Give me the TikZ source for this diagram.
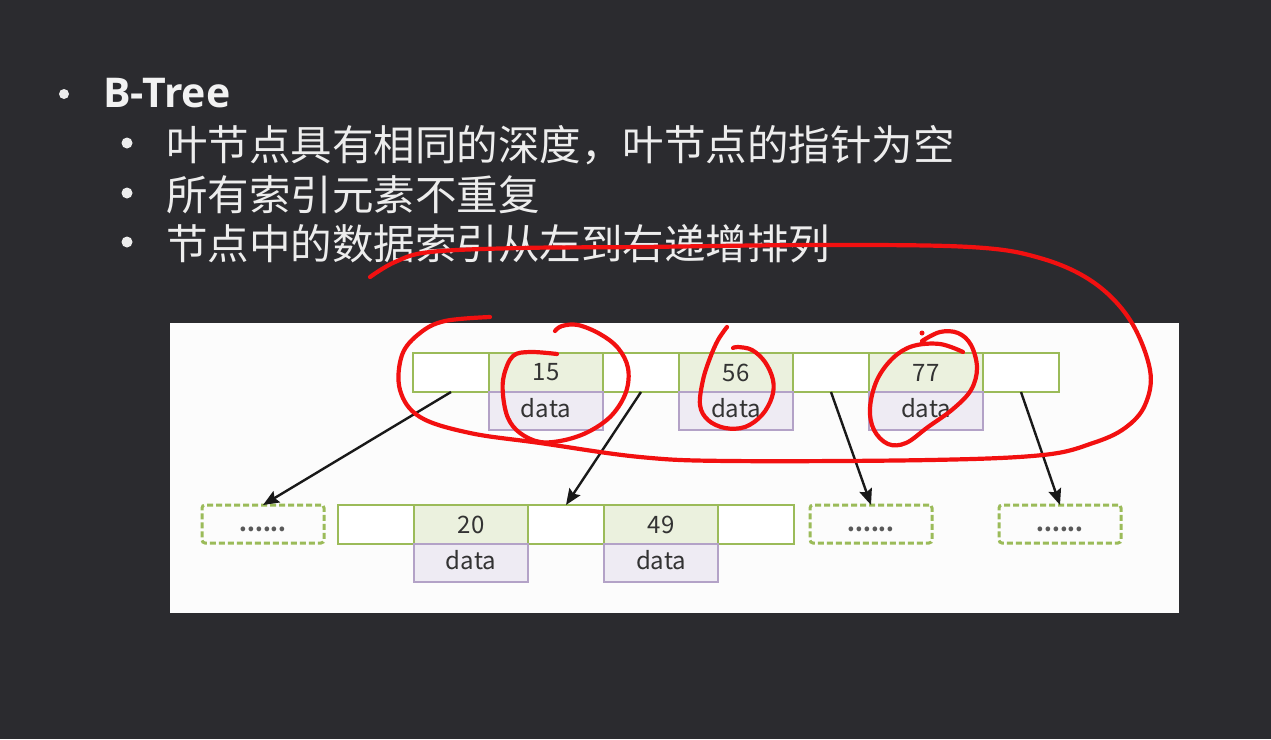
\documentclass[tikz,border=0pt]{standalone}
\usepackage{fontspec}
\usetikzlibrary{arrows.meta}
\newfontfamily\cjk{Noto Sans CJK SC}
\newfontfamily\titlefont{Open Sans}
\definecolor{bg}{HTML}{2B2B2F}
\definecolor{txt}{HTML}{EDEDED}
\definecolor{cellgreen}{HTML}{9BBB59}
\definecolor{keyfill}{HTML}{EBF1DE}
\definecolor{datline}{HTML}{B3A2C7}
\definecolor{datfill}{HTML}{EEEBF3}
\definecolor{pen}{HTML}{F21010}

\begin{document}
\begin{tikzpicture}[x=1pt,y=-1pt,>={Stealth[length=16pt,width=13pt,inset=2.5pt]},
  ptr/.style={draw=cellgreen,line width=2.6pt,fill=white,minimum width=76pt,
    minimum height=39pt,inner sep=0pt,outer sep=0pt,anchor=north west},
  keycell/.style={ptr,fill=keyfill,minimum width=114pt,
    font=\cjk\fontsize{24}{28}\selectfont,text=black!80},
  datacell/.style={keycell,draw=datline,fill=datfill,minimum height=38pt,
    anchor=north,text height=18pt,text depth=5pt},
  dashbox/.style={draw=cellgreen,line width=3pt,dash pattern=on 6pt off 3pt,
    rounded corners=3pt,minimum width=122pt,minimum height=38pt,inner sep=0pt,
    outer sep=0pt,anchor=north west,text height=14pt,text depth=0pt,
    font=\cjk\bfseries\fontsize{22}{26}\selectfont,text=black!65},
  link/.style={->,line width=2.4pt,black!90},
  redpen/.style={draw=pen,line width=4.2pt,line cap=round,line join=round},
  itemtext/.style={font=\cjk\fontsize{41.5}{48}\selectfont,text=txt,
    anchor=base west,inner sep=0pt},
  bulletdot/.style={circle,fill=txt,inner sep=0pt,minimum size=#1}]
% ---------- 背景 ----------
\fill[bg] (0,0) rectangle (1271,739);
\useasboundingbox (0,0) rectangle (1271,739);
% ---------- 标题与要点 ----------
\node[bulletdot=10pt] (bu0) at (64,94) {};
\node[itemtext,font=\titlefont\bfseries\fontsize{41}{48}\selectfont,text=white!95!black]
  (title) at (103,107) {B-Tree};
\foreach \y/\n in {143/1,193/2,242/3}
  \node[bulletdot=11pt] (bu\n) at (127,\y) {};
\node[itemtext] (line1) at (166,160) {叶节点具有相同的深度，叶节点的指针为空};
\node[itemtext] (line2) at (166,210) {所有索引元素不重复};
\node[itemtext] (line3) at (166,259) {节点中的数据索引从左到右递增排列};
% ---------- 白色图板 ----------
\fill[white!99!black] (170,323) rectangle (1179,613);
% ---------- 根节点 ----------
\foreach \x/\n in {413/t0,603/t1,793/t2,983/t3}
  \node[ptr] (\n) at (\x,353) {};
\foreach \x/\k in {489/15,679/56,869/77}{
  \node[keycell] (k\k) at (\x,353) {\k};
  \node[datacell] (d\k) at (k\k.south) {data};
}
% ---------- 子节点 ----------
\foreach \x/\n in {338/b0,528/b1,718/b2}
  \node[ptr] (\n) at (\x,505) {};
\foreach \x/\k in {414/20,604/49}{
  \node[keycell] (k\k) at (\x,505) {\k};
  \node[datacell] (d\k) at (k\k.south) {data};
}
\node[dashbox] (leaf0) at (202,505) {......};
\node[dashbox] (leaf2) at (810,505) {......};
\node[dashbox] (leaf3) at (999,505) {......};
% 指针
\draw[link] (t0.south) -- (leaf0.north);
\draw[link] (t1.south) -- (b1.north);
\draw[link] (t2.south) -- (leaf2.north);
\draw[link] (t3.south) -- (leaf3.north);
% ---------- 红笔圈注 ----------
\draw[redpen] plot[smooth,tension=0.6] coordinates {(370,277) (395,262) (430,252)
  (520,248) (640,247) (820,245) (970,247) (1040,258) (1093,282) (1130,320)
  (1150,370) (1145,405) (1125,428) (1093,443) (1043,455) (930,460) (730,461)
  (640,457) (540,443) (470,433) (420,417) (400,390) (402,355) (420,333)
  (445,321) (490,317)};
\draw[redpen] plot[smooth,tension=0.6] coordinates {(557,354) (530,352) (513,356)
  (504,375) (503,395) (508,418) (520,433) (540,442) (565,440) (590,431)
  (612,415) (626,392) (628,368) (618,348) (600,334) (578,325) (562,326) (555,331)};
\draw[redpen] plot[smooth,tension=0.6] coordinates {(727,327) (718,340) (710,358)
  (703,380) (700,405) (708,420) (725,428) (745,427) (762,415) (772,397)
  (773,380) (765,362) (752,350) (738,347) (733,348)};
\draw[redpen] plot[smooth,tension=0.6] coordinates {(922,341) (940,332) (958,333)
  (971,345) (977,368) (971,390) (953,409) (928,427) (906,443) (888,444)
  (874,430) (870,408) (877,380) (893,358) (913,346) (940,344) (963,352)};
\fill[pen] (922,333) circle (2.5);
\end{tikzpicture}
\end{document}
